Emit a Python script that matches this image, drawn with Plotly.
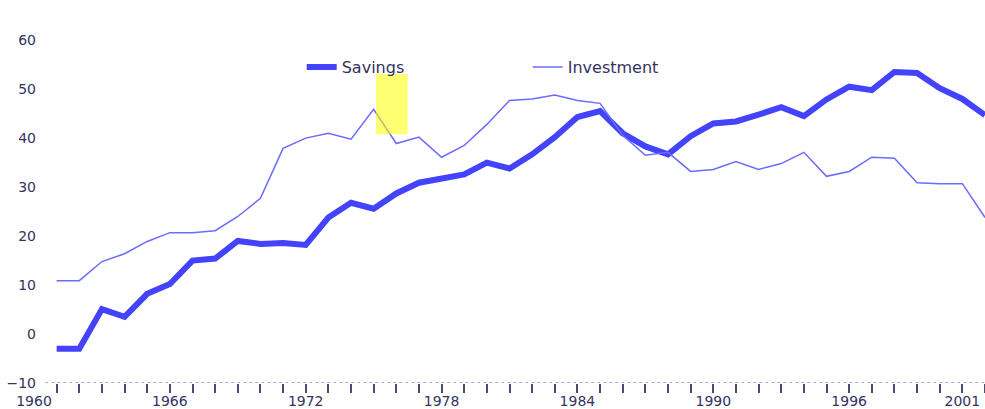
import plotly.graph_objects as go

years = list(range(1961, 2003))
savings = [-3, -3, 5.1, 3.5, 8.2, 10.2, 15, 15.4, 19, 18.4, 18.6, 18.2, 23.8, 26.8, 25.6,
           28.7, 30.9, 31.6, 32.6, 35, 33.8, 36.7, 40.2, 44.3, 45.5, 41, 38.3, 36.7, 40.4,
           43, 43.4, 44.8, 46.3, 44.5, 47.9, 50.5, 49.8, 53.5, 53.3, 50.2, 48, 44.7]
investment = [10.9, 10.9, 14.8, 16.4, 18.9, 20.7, 20.7, 21.1, 24, 27.7, 37.9, 40, 41, 39.8,
              45.9, 38.9, 40.2, 36.1, 38.5, 42.8, 47.7, 48, 48.8, 47.7, 47.1, 40.6, 36.5,
              37.1, 33.2, 33.6, 35.2, 33.6, 34.8, 37.1, 32.2, 33.2, 36.1, 35.9, 30.9, 30.7,
              30.7, 23.8]
x_tick_vals = [1960, 1966, 1972, 1978, 1984, 1990, 1996, 2001]
x_tick_text = ["1960", "1966", "1972", "1978", "1984", "1990", "1996", "2001"]
y_tick_vals = [-10, 0, 10, 20, 30, 40, 50, 60]
# highlight box (years, values)
highlight_x = [1975.1, 1976.5]
highlight_y = [40.8, 53.1]

TXT = "#33335f"
FONT = "DejaVu Sans"

fig = go.Figure()
fig.add_trace(go.Scatter(x=years, y=savings, mode="lines", name="Savings",
                         line=dict(color="#4343fb", width=6)))
fig.add_trace(go.Scatter(x=years, y=investment, mode="lines", name="Investment",
                         line=dict(color="#6b6bff", width=1.5)))
# carrier for the yearly tick axis
fig.add_trace(go.Scatter(x=years, y=[None] * len(years), xaxis="x2", mode="lines",
                         showlegend=False, hoverinfo="skip"))

fig.add_shape(type="rect", xref="x", yref="y",
              x0=highlight_x[0], x1=highlight_x[1], y0=highlight_y[0], y1=highlight_y[1],
              fillcolor="#ffff00", opacity=0.55, line=dict(width=0), layer="above")
fig.add_shape(type="line", xref="x", yref="y", x0=years[0] - 0.5, x1=years[-1],
              y0=-10, y1=-10, line=dict(color="#9a8cf0", width=1.5, dash="dot"))

fig.update_layout(
    width=985, height=409,
    margin=dict(l=34, r=0, t=1, b=26),
    paper_bgcolor="white", plot_bgcolor="white",
    font=dict(family=FONT, size=14, color=TXT),
    showlegend=True,
    legend=dict(orientation="h", x=0.2815, y=0.827, xanchor="left", yanchor="middle",
                font=dict(family=FONT, size=16, color=TXT), entrywidth=181,
                bgcolor="rgba(0,0,0,0)"),
    xaxis=dict(range=[1960, 2002], tickvals=x_tick_vals, ticktext=x_tick_text,
               ticks="outside", ticklen=5, tickcolor="rgba(0,0,0,0)", automargin=False,
               showgrid=False, zeroline=False, showline=False,
               tickfont=dict(family=FONT, size=14, color=TXT)),
    xaxis2=dict(range=[1960, 2002], overlaying="x", anchor="y", side="bottom",
                tickvals=years, ticks="outside", ticklen=9, tickwidth=1.5, automargin=False,
                tickcolor="#4a4a70", showticklabels=False, showgrid=False,
                zeroline=False, showline=False),
    yaxis=dict(range=[-10, 68], tickvals=y_tick_vals, ticks="", showgrid=False,
               zeroline=False, showline=False, ticklabelstandoff=-3, automargin=False,
               tickfont=dict(family=FONT, size=14, color=TXT)),
)

fig.write_html("out.html", config={"displayModeBar": False},
               post_script="document.body.style.margin='0';document.body.style.overflow='hidden';")
